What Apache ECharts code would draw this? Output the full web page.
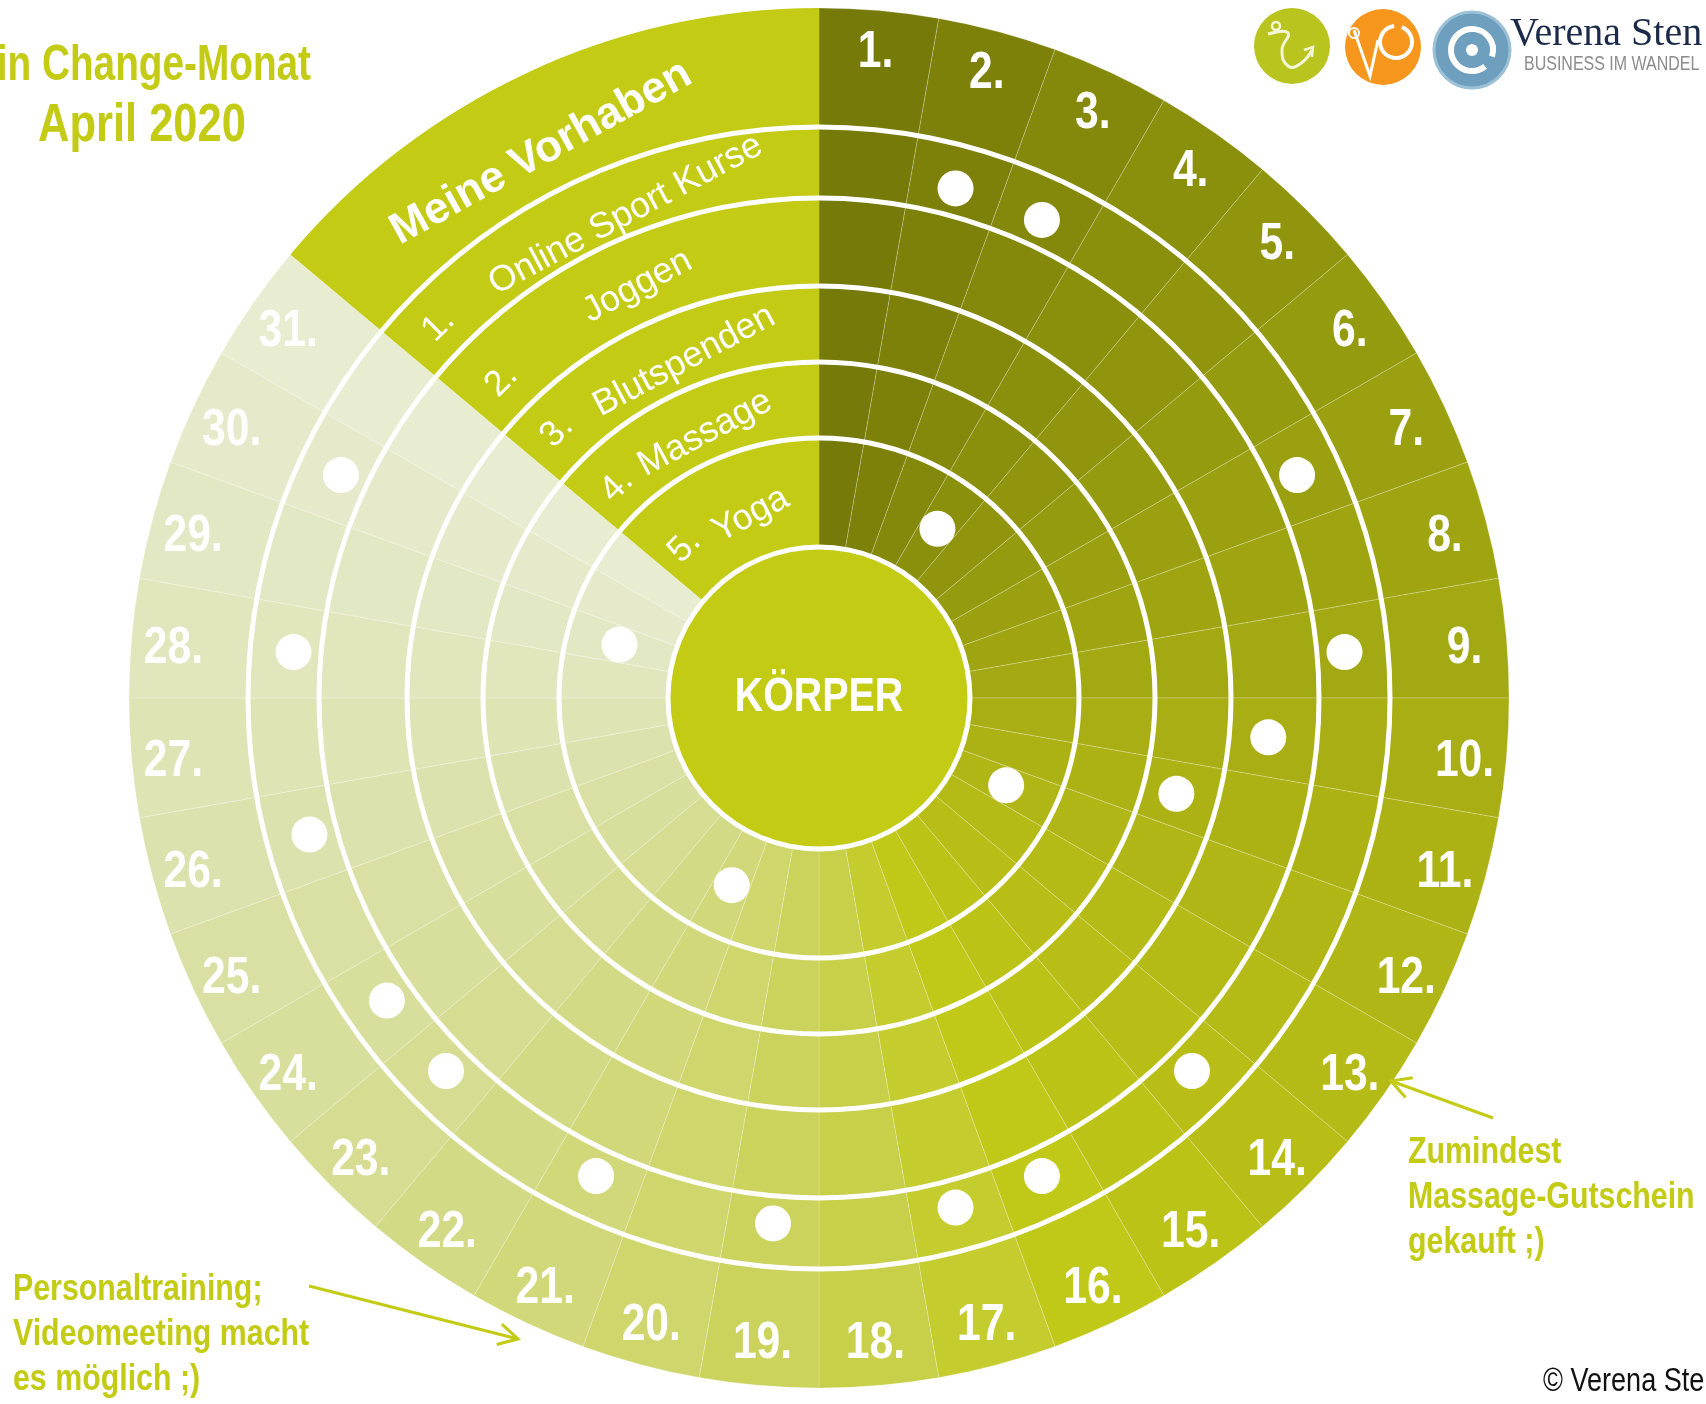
<!DOCTYPE html>
<html>
<head>
<meta charset="utf-8">
<script src="https://cdn.jsdelivr.net/npm/echarts@6/dist/echarts.min.js"></script>
<style>
  html, body { margin: 0; padding: 0; background: #fff; }
  #main { width: 1706px; height: 1404px; }
</style>
</head>
<body>
<div id="main"></div>
<script>
// Tage im Monat (April)
var days = [1, 2, 3, 4, 5, 6, 7, 8, 9, 10, 11, 12, 13, 14, 15, 16,
            17, 18, 19, 20, 21, 22, 23, 24, 25, 26, 27, 28, 29, 30, 31];
// Vorhaben (Ring 1 = aussen, Ring 5 = innen)
var plans = ['Online Sport Kurse', 'Joggen', 'Blutspenden', 'Massage', 'Yoga'];
// erledigt: [Tag, Vorhaben-Nr.]
var done = [
    [2, 1], [3, 1], [7, 1], [9, 1], [14, 1], [16, 1], [17, 1], [19, 1],
    [21, 1], [23, 1], [24, 1], [26, 1], [28, 1], [30, 1],
    [10, 2],
    [11, 3],
    [4, 5], [12, 5], [21, 5], [29, 5]
];

// Farbverlauf pro Tag
var dayColors = [
    '#767a09', '#7d8109', '#84880b', '#8a8f0c', '#90950d', '#959b0e', '#9aa010', '#9fa511',
    '#a3a912', '#a8ae13', '#acb214', '#b0b615', '#b4ba16', '#b8be16', '#bcc317', '#c0c818',
    '#c4cc2e', '#c8cf48', '#cbd35c', '#ced66c', '#d1d87a', '#d3da86', '#d6dc91', '#d8de9b',
    '#dae0a4', '#dce2ad', '#dfe4b5', '#e1e6bd', '#e3e8c4', '#e6eaca', '#e8ecd1'
];
var LIME = '#c3cb15';
var SANS = '"Liberation Sans", Arial, sans-serif';
var NARROW = 0.82; // Arial Narrow nachgebaut

// Layout
var CX = 819, CY = 698;
var DAY_DEG = 10;
var bounds = [690, 571, 500, 412, 336, 260, 151]; // ring k: [bounds[k+1], bounds[k]]
var LINE_W = 5;
var dotShift = [0, -8, -5, -4, 0, 1]; // Punkte sitzen nicht ganz mittig im Ring
// Lage der Vorhaben-Texte im Sektor: [Radius-Versatz, Winkel]
var numPos = [[-3, 314.4], [-7, 315], [0, 315.5], [-5, 316.4], [-3, 318.4]];
var namePos = [[-15, 338.2], [-6, 336.2], [-11, 338.2], [-10, 336.7], [-10, 339.6]];

function ringMid(k) {
    return (bounds[k] + bounds[k + 1]) / 2;
}
function dayAngle(d) {
    return (d - 0.5) * DAY_DEG;
}

var chart = echarts.init(document.getElementById('main'));

function ringSeries(k) {
    var data = days.map(function (d, i) {
        return { name: d + '.', value: DAY_DEG, itemStyle: { color: dayColors[i] } };
    });
    data.push({
        name: 'Meine Vorhaben',
        value: 360 - days.length * DAY_DEG,
        itemStyle: { color: LIME, borderWidth: 0 }
    });
    return {
        type: 'pie',
        silent: true,
        animation: false,
        center: [CX, CY],
        radius: [bounds[k + 1], bounds[k]],
        startAngle: 90,
        clockwise: true,
        label: { show: false },
        labelLine: { show: false },
        itemStyle: { borderColor: 'rgba(255,255,255,0.22)', borderWidth: 1 },
        data: data
    };
}

function whiteLine(r) {
    return {
        type: 'pie',
        silent: true,
        animation: false,
        center: [CX, CY],
        radius: [r - LINE_W / 2, r + LINE_W / 2],
        label: { show: false },
        labelLine: { show: false },
        z: 3,
        data: [{ value: 1, itemStyle: { color: '#fff' } }]
    };
}

// Textserie im Polarsystem (erlaubt schmale Schrift per scaleX)
function textSeries(items) {
    return {
        type: 'custom',
        coordinateSystem: 'polar',
        silent: true,
        animation: false,
        z: 7,
        data: items.map(function (it) { return { name: it.text, value: it.pos }; }),
        renderItem: function (params, api) {
            var it = items[params.dataIndex];
            var pt = api.coord([api.value(0), api.value(1)]);
            return {
                type: 'text',
                x: pt[0], y: pt[1] + (it.dy || 0),
                rotation: (it.rotate || 0) * Math.PI / 180,
                scaleX: it.sx || 1,
                style: {
                    text: it.text, fill: '#fff',
                    fontSize: it.size, fontWeight: it.weight || 'normal', fontFamily: SANS,
                    align: 'center', verticalAlign: 'middle'
                }
            };
        }
    };
}

var series = [];
for (var k = 0; k < bounds.length - 1; k++) series.push(ringSeries(k));
for (var j = 1; j < bounds.length; j++) series.push(whiteLine(bounds[j]));

// Kern
series.push({
    type: 'pie',
    silent: true,
    animation: false,
    center: [CX, CY],
    radius: [0, bounds[6] - LINE_W / 2],
    z: 4,
    label: { show: false },
    labelLine: { show: false },
    data: [{ value: 1, itemStyle: { color: LIME } }]
});

// Punkte
series.push({
    type: 'scatter',
    coordinateSystem: 'polar',
    silent: true,
    animation: false,
    z: 6,
    symbolSize: 36,
    itemStyle: { color: '#fff', opacity: 1 },
    data: done.map(function (p) { return [ringMid(p[1]) + dotShift[p[1]], dayAngle(p[0])]; })
});

// Tageszahlen, Kern- und Sektorbeschriftung
var labels = days.map(function (d) {
    var a = dayAngle(d) * Math.PI / 180;
    return { text: d + '.', pos: [648, dayAngle(d)], size: 52, weight: 'bold', sx: NARROW,
             dy: 7 * Math.abs(Math.sin(a)) };
});
labels.push({ text: 'KÖRPER', pos: [0, 0], size: 48, weight: 'bold', sx: NARROW });
labels.push({ text: 'Meine Vorhaben', pos: [612, 333], size: 44, weight: 'bold', rotate: 29 });
plans.forEach(function (p, i) {
    var m = ringMid(i + 1);
    labels.push({ text: (i + 1) + '.', pos: [m + numPos[i][0], numPos[i][1]], size: 36, rotate: 45 });
    labels.push({ text: p, pos: [m + namePos[i][0], namePos[i][1]], size: 36, rotate: 28 });
});
series.push(textSeries(labels));

function arrow(x1, y1, x2, y2) {
    var a = Math.atan2(y2 - y1, x2 - x1), L = 22, w = 0.5;
    var p1 = [x2 - L * Math.cos(a - w), y2 - L * Math.sin(a - w)];
    var p2 = [x2 - L * Math.cos(a + w), y2 - L * Math.sin(a + w)];
    var st = { stroke: LIME, lineWidth: 3, fill: null };
    return [
        { type: 'line', shape: { x1: x1, y1: y1, x2: x2, y2: y2 }, style: st, z: 10 },
        { type: 'polyline', shape: { points: [p1, [x2, y2], p2] }, style: st, z: 10 }
    ];
}

function txt(text, x, y, size, weight, family, color, align, lh, sx) {
    return {
        type: 'text', z: 10,
        x: x, y: y, scaleX: sx || 1,
        style: {
            text: text, x: 0, y: 0,
            fontSize: size, fontWeight: weight, fontFamily: family,
            fill: color, align: align, verticalAlign: 'top',
            lineHeight: lh || size
        }
    };
}

var graphics = [
    txt('Mein Change-Monat', 311, 39, 50, 'bold', SANS, LIME, 'right', 54, 0.775),
    txt('April 2020', 142, 98, 53, 'bold', SANS, LIME, 'center', 57, NARROW),
    txt('Zumindest\nMassage-Gutschein\ngekauft ;)', 1408, 1130, 37, 'bold', SANS, LIME, 'left', 45, NARROW),
    txt('Personaltraining;\nVideomeeting macht\nes möglich ;)', 13, 1267, 37, 'bold', SANS, LIME, 'left', 45, NARROW),
    txt('© Verena Ste', 1543, 1364, 33, 'normal', SANS, '#111', 'left', 36, NARROW),
    // Logos
    { type: 'circle', shape: { cx: 1292, cy: 46, r: 38 }, style: { fill: '#b9c41e' }, z: 10 },
    { type: 'circle', shape: { cx: 1276, cy: 26, r: 4 }, style: { fill: null, stroke: '#f4f6d8', lineWidth: 2.5 }, z: 11 },
    { type: 'polyline', shape: { smooth: 0.5, points: [[1268, 34], [1288, 33], [1282, 50], [1288, 66], [1300, 64], [1312, 50]] },
      style: { fill: null, stroke: '#f4f6d8', lineWidth: 3 }, z: 11 },
    { type: 'polyline', shape: { points: [[1304, 50], [1313, 47], [1312, 57]] },
      style: { fill: null, stroke: '#f4f6d8', lineWidth: 2.5 }, z: 11 },
    { type: 'circle', shape: { cx: 1383, cy: 47, r: 38 }, style: { fill: '#f7961c' }, z: 10 },
    { type: 'polyline', shape: { points: [[1354, 30], [1370, 76], [1378, 40]] },
      style: { fill: null, stroke: '#fff', lineWidth: 3 }, z: 11 },
    { type: 'circle', shape: { cx: 1354, cy: 33, r: 5 }, style: { fill: null, stroke: '#fff', lineWidth: 2 }, z: 11 },
    { type: 'arc', shape: { cx: 1396, cy: 42, r: 16, startAngle: -1.2, endAngle: 4.6 }, style: { stroke: '#fff', lineWidth: 4, fill: null }, z: 11 },
    { type: 'circle', shape: { cx: 1472, cy: 50, r: 38 }, style: { fill: '#6f9fbe', stroke: '#9cc0d6', lineWidth: 3 }, z: 10 },
    { type: 'arc', shape: { cx: 1472, cy: 50, r: 21, startAngle: 0.9, endAngle: 6.6 }, style: { stroke: '#fff', lineWidth: 6, fill: null }, z: 11 },
    { type: 'circle', shape: { cx: 1472, cy: 50, r: 6 }, style: { fill: '#fff' }, z: 11 },
    txt('Verena Sten', 1510, 13, 40, 'normal', '"Liberation Serif", "Times New Roman", serif', '#1b2a48', 'left', 42),
    txt('BUSINESS IM WANDEL', 1524, 53, 20, 'normal', SANS, '#8c8c8c', 'left', 22, 0.8)
].concat(arrow(1493, 1118, 1391, 1081)).concat(arrow(309, 1286, 518, 1339));

chart.setOption({
    animation: false,
    backgroundColor: '#fff',
    polar: { center: [CX, CY], radius: bounds[0] },
    angleAxis: {
        type: 'value', min: 0, max: 360, startAngle: 90, clockwise: true,
        show: false, axisLine: { show: false }, splitLine: { show: false }, axisLabel: { show: false }, axisTick: { show: false }
    },
    radiusAxis: {
        type: 'value', min: 0, max: bounds[0],
        show: false, axisLine: { show: false }, splitLine: { show: false }, axisLabel: { show: false }, axisTick: { show: false }
    },
    graphic: graphics,
    series: series
});
</script>
</body>
</html>
